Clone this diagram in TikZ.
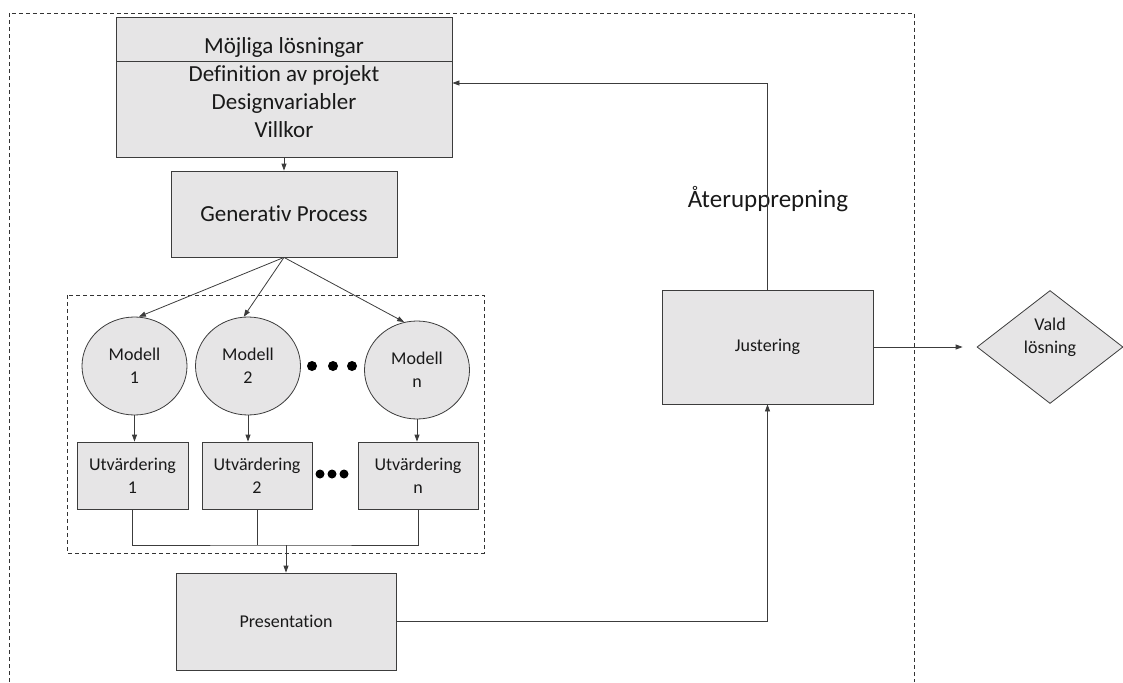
\documentclass[tikz,border=0pt]{standalone}
\usepackage{fontspec}
\setmainfont{Carlito}[Ligatures=NoCommon]
\usetikzlibrary{shapes,arrows.meta}
\definecolor{boxfill}{RGB}{230,229,230}
\definecolor{edge}{RGB}{60,60,60}
\newcommand\fbig{\fontsize{23}{28}\selectfont}
\newcommand\fmid{\fontsize{18}{23}\selectfont}
\newcommand\fsml{\fontsize{18}{23}\selectfont}
\begin{document}
\begin{tikzpicture}[x=1pt, y=-1pt, line width=0.8pt, draw=edge, >={Triangle[length=7pt,width=5pt]}]
\tikzstyle{bx}=[rectangle, draw=edge, fill=boxfill, inner sep=0pt, align=center, text=black!90]
\tikzstyle{md}=[ellipse, draw=edge, fill=boxfill, inner sep=0pt, minimum width=105pt, minimum height=98pt, align=center, font=\fmid, text=black!90]
\tikzstyle{ut}=[bx, minimum height=67pt, font=\fmid]
\tikzstyle{dsh}=[draw=black!80, dash pattern=on 4pt off 3pt]
\useasboundingbox (0,0) rectangle (1123,682);
% outer and inner frames
\draw[dsh] (9,682) -- (9,13) -- (914,13) -- (914,682);
\draw[dsh] (67,295) rectangle (484,553);
% top boxes
\node[bx, minimum width=336pt, minimum height=44pt, label={[font=\fbig, text=black!90, yshift=-8pt]center:Möjliga lösningar}] (opt) at (284,39) {};
\node[bx, minimum width=336pt, minimum height=96pt, label={[font=\fbig, text=black!90, align=center, yshift=7pt]center:Definition av projekt\\Designvariabler\\Villkor}] (def) at (284,109) {};
\node[bx, minimum width=226pt, minimum height=86pt, font=\fbig] (gen) at (284,214) {Generativ Process};
% models
\node[md] (m1) at (134.5,366) {Modell\\1};
\node[md] (m2) at (248,366)   {Modell\\2};
\node[md] (mn) at (417,370)   {Modell\\n};
\foreach \x in {312,333,352} \fill (\x,366) circle (5pt);
% evaluations
\node[ut, minimum width=111pt] (u1) at (132.5,475.5) {Utvärdering\\1};
\node[ut, minimum width=110pt] (u2) at (257,475.5)   {Utvärdering\\2};
\node[ut, minimum width=120pt] (un) at (418,475.5)   {Utvärdering\\n};
\foreach \x in {320,332,344} \fill (\x,474) circle (4.5pt);
% presentation and adjustment
\node[bx, minimum width=220pt, minimum height=97pt, font=\fsml] (pres) at (286,621.5) {Presentation};
\node[bx, minimum width=211pt, minimum height=114pt, font=\fsml] (jus) at (767.5,347) {Justering};
\node[diamond, draw=edge, fill=boxfill, inner sep=0pt, minimum width=146pt, minimum height=113pt, align=center, font=\fsml, label={[font=\fsml, text=black!90, align=center, yshift=10pt]center:Vald\\lösning}] (vald) at (1050,347) {};
\node[font=\fontsize{25}{30}\selectfont, text=black!90] (rep) at (768,199) {Återupprepning};
\coordinate (bus) at (286,545);
% connectors
\draw[->] (def.south) -- (gen.north);
\draw[->] (gen.south) -- (m1.85);
\draw[->] (gen.south) -- (m2.95);
\draw[->] (gen.south) -- (mn.105);
\draw[->] (m1.south) -- (m1.south |- u1.north);
\draw[->] (m2.south) -- (m2.south |- u2.north);
\draw[->] (mn.south) -- (mn.south |- un.north);
\draw (u1.south) |- (bus) -| (un.south);
\draw (u2.south) -- (u2.south |- bus);
\draw[->] (bus) -- (pres.north);
\draw[->] (pres.east) -| (jus.south);
\draw[->] (jus.north) |- ([yshift=26pt]def.east);
\draw[->, shorten >=14pt] (jus.east) -- (vald.west);
\end{tikzpicture}
\end{document}
